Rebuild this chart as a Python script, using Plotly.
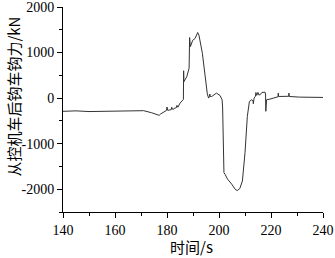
import plotly.graph_objects as go

# time (s) and coupler force (kN)
t = [140, 145, 150, 155, 160, 165, 171, 174, 176, 177, 177.5, 179, 179.8, 180, 180.3, 181, 181.6, 181.8,
     182.2, 183, 183.6, 183.8, 184.2, 185, 186, 186.3, 186.4, 186.5, 187.6, 188.5, 188.7, 188.8, 189,
     189.9, 190.8, 191.8, 192.3, 193.6, 194.6, 195.5, 196, 196.3, 196.5, 196.6, 197.2, 199, 200.4, 201.2,
     201.4, 201.9, 202.3, 203.3, 204.9, 206.2, 207, 208, 209, 210, 210.9, 211.7, 212.6, 213.1, 213.2,
     213.5, 214, 214.2, 214.5, 215, 215.3, 215.8, 216.5, 217, 217.7, 217.9, 218, 218.3, 219.6, 222.7,
     222.8, 222.9, 226.8, 226.9, 227, 231, 240]
f = [-290, -280, -295, -288, -285, -282, -276, -320, -365, -378, -350, -300, -270, -196, -270, -260, -255, -200,
     -250, -220, -210, -160, -200, -110, -36, -30, 600, 360, 470, 655, 1330, 1150, 1130,
     1270, 1310, 1440, 1380, 985, 473, 95, 0, 30, 90, 36, 36, 110, 58, -36,
     -218, -1636, -1670, -1780, -1890, -2000, -2030, -1985, -1820, -1200, -400, -73, -36, -60, -124,
     0, 40, 124, 60, 124, 70, 73, 124, 124, 130, 90, -290, -36, -22, 30,
     110, 36, 40, 110, 36, 22, 15]

x_ticks = [140, 160, 180, 200, 220, 240]
y_ticks = [-2000, -1000, 0, 1000, 2000]
y_ticklabels = ["-2000", "-1000", "0", "1000", "2000"]
x_title = "时间/s"
y_title = "从控机车后钩车钩力/kN"

fig = go.Figure()
fig.add_trace(go.Scatter(x=t, y=f, mode="lines",
                         line=dict(color="#333333", width=1), showlegend=False))

axis_font = dict(family="Liberation Serif, DejaVu Serif, serif", size=14, color="black")
fig.update_layout(
    width=335, height=258,
    margin=dict(l=63, r=12, t=7, b=46),
    paper_bgcolor="white", plot_bgcolor="white",
    xaxis=dict(range=[140, 240], tickvals=x_ticks, ticks="outside", ticklen=5, tickwidth=1,
               tickcolor="black", showline=True, linecolor="black", linewidth=1,
               showgrid=False, zeroline=False, tickfont=axis_font, automargin=False,
               ticklabeloverflow="allow",
               minor=dict(dtick=10, ticks="outside", ticklen=3, tickcolor="black", showgrid=False)),
    yaxis=dict(range=[-2500, 2000], tickvals=y_ticks, ticktext=y_ticklabels, ticks="outside",
               ticklen=5, tickwidth=1,
               tickcolor="black", showline=True, linecolor="black", linewidth=1,
               showgrid=False, zeroline=False, tickfont=axis_font, automargin=False,
               ticklabeloverflow="allow",
               minor=dict(dtick=500, ticks="outside", ticklen=3, tickcolor="black", showgrid=False)),
    annotations=[
        dict(text=x_title, xref="paper", yref="paper", x=0.494, y=-0.168, xanchor="center",
             yanchor="middle", showarrow=False,
             font=dict(family="Noto Sans CJK SC", size=15, color="black")),
        dict(text=y_title, xref="paper", yref="paper", x=-0.19, y=0.561, xanchor="center",
             yanchor="middle", textangle=-90, showarrow=False,
             font=dict(family="Noto Sans CJK SC", size=15, color="black")),
    ],
)
fig.write_html("out.html", config={"displayModeBar": False},
               post_script="document.body.style.margin='0';document.body.style.overflow='hidden';")
